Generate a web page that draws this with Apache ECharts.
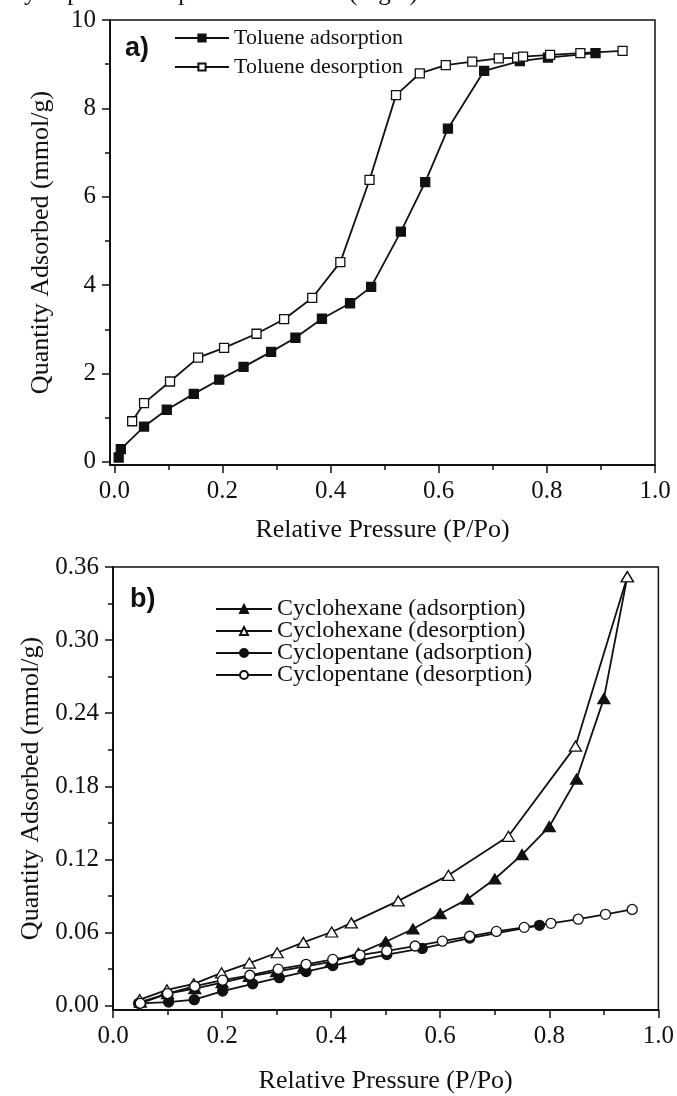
<!DOCTYPE html>
<html>
<head>
<meta charset="utf-8">
<script src="https://cdn.jsdelivr.net/npm/echarts@6/dist/echarts.min.js"></script>
<style>
  html, body { margin: 0; padding: 0; background: #fff; }
  #chart { width: 677px; height: 1096px; }
</style>
</head>
<body>
<div id="chart"></div>
<script>
// panel a) toluene
const tolAdsP = [0.008, 0.012, 0.055, 0.097, 0.147, 0.194, 0.239, 0.290, 0.335, 0.384, 0.436, 0.475, 0.530, 0.575, 0.617, 0.684, 0.750, 0.802, 0.890];
const tolAdsQ = [0.10, 0.29, 0.80, 1.18, 1.54, 1.86, 2.15, 2.49, 2.81, 3.24, 3.59, 3.96, 5.21, 6.33, 7.54, 8.85, 9.07, 9.15, 9.25];
const tolDesP = [0.033, 0.055, 0.103, 0.155, 0.203, 0.263, 0.314, 0.366, 0.418, 0.472, 0.521, 0.565, 0.613, 0.662, 0.711, 0.745, 0.756, 0.806, 0.862, 0.940];
const tolDesQ = [0.92, 1.33, 1.82, 2.36, 2.58, 2.90, 3.23, 3.71, 4.52, 6.38, 8.30, 8.79, 8.98, 9.06, 9.13, 9.15, 9.17, 9.21, 9.25, 9.30];

// panel b) cyclohexane / cyclopentane
const hexAdsP = [0.05, 0.10, 0.15, 0.20, 0.25, 0.30, 0.35, 0.40, 0.45, 0.50, 0.55, 0.60, 0.65, 0.70, 0.75, 0.80, 0.85, 0.90, 0.943];
const hexAdsQ = [0.003, 0.010, 0.014, 0.019, 0.024, 0.028, 0.032, 0.036, 0.043, 0.0525, 0.063, 0.0755, 0.0875, 0.104, 0.124, 0.147, 0.186, 0.252, 0.352];
const hexDesP = [0.049, 0.099, 0.148, 0.199, 0.250, 0.301, 0.349, 0.401, 0.437, 0.523, 0.615, 0.725, 0.848, 0.943];
const hexDesQ = [0.005, 0.013, 0.018, 0.027, 0.035, 0.0435, 0.052, 0.0605, 0.068, 0.086, 0.107, 0.139, 0.213, 0.352];
const penAdsP = [0.047, 0.102, 0.149, 0.201, 0.256, 0.305, 0.354, 0.403, 0.453, 0.502, 0.567, 0.654, 0.782];
const penAdsQ = [0.002, 0.003, 0.005, 0.012, 0.018, 0.023, 0.028, 0.033, 0.0375, 0.042, 0.047, 0.0555, 0.066];
const penDesP = [0.05, 0.10, 0.15, 0.201, 0.251, 0.303, 0.354, 0.403, 0.453, 0.502, 0.554, 0.604, 0.654, 0.703, 0.754, 0.803, 0.853, 0.903, 0.952];
const penDesQ = [0.002, 0.010, 0.016, 0.021, 0.025, 0.030, 0.034, 0.038, 0.0416, 0.045, 0.049, 0.053, 0.057, 0.061, 0.0643, 0.0676, 0.071, 0.075, 0.079];

// ticks
const xMajor = [0, 0.2, 0.4, 0.6, 0.8, 1.0];
const xMinor = [0.1, 0.3, 0.5, 0.7, 0.9];
const yMajorA = [0, 2, 4, 6, 8, 10];
const yMinorA = [1, 3, 5, 7, 9];
const yMajorB = [0, 0.06, 0.12, 0.18, 0.24, 0.30, 0.36];
const yMinorB = [0.03, 0.09, 0.15, 0.21, 0.27, 0.33];

const serif = 'Liberation Serif';
const ink = '#111';

function zip(xs, ys) {
  return xs.map((x, i) => [x, ys[i]]);
}

function majorAxis(grid, pos, min, max, ticks, fmt, extra) {
  return Object.assign({
    type: 'value', gridIndex: grid, position: pos, min: min, max: max,
    axisLine: { show: true, onZero: false, lineStyle: { color: ink, width: 2 } },
    axisTick: { show: true, length: 8, customValues: ticks, lineStyle: { color: ink, width: 1.5 } },
    axisLabel: { customValues: ticks, formatter: fmt, color: ink, fontFamily: serif, fontSize: 25, margin: 14 },
    splitLine: { show: false },
    nameTextStyle: { color: ink, fontFamily: serif, fontSize: 26 }
  }, extra);
}

// second axis on the same side, only for the short minor ticks
function minorAxis(grid, pos, min, max, ticks) {
  return {
    type: 'value', gridIndex: grid, position: pos, offset: 0, min: min, max: max,
    axisLine: { show: false, onZero: false },
    axisTick: { show: true, length: 5, customValues: ticks, lineStyle: { color: ink, width: 1.5 } },
    axisLabel: { show: false },
    splitLine: { show: false }
  };
}

function curve(name, xs, ys, xi, yi, symbol, size, filled) {
  return {
    name: name, type: 'line', xAxisIndex: xi, yAxisIndex: yi,
    data: zip(xs, ys),
    symbol: symbol, symbolSize: size, showAllSymbol: true,
    lineStyle: { color: ink, width: 1.8 },
    itemStyle: { color: filled ? ink : '#fff', borderColor: ink, borderWidth: 1.3 },
    emphasis: { disabled: true }
  };
}

const chart = echarts.init(document.getElementById('chart'));
chart.setOption({
  animation: false,
  backgroundColor: '#fff',
  graphic: [
    { type: 'text', left: 13, top: -19, style: { text: 'cyclopentane as probe molecules (Fig 5).', font: '25px "Liberation Serif"', fill: ink } },
    { type: 'text', left: 125, top: 35, style: { text: 'a)', font: 'bold 27px "Liberation Sans"', fill: ink } },
    { type: 'text', left: 130, top: 586, style: { text: 'b)', font: 'bold 27px "Liberation Sans"', fill: ink } }
  ],
  grid: [
    { left: 110, top: 20, width: 545, height: 445, show: true, borderColor: ink, borderWidth: 1.5 },
    { left: 113, top: 567, width: 546, height: 443, show: true, borderColor: ink, borderWidth: 1.5 }
  ],
  legend: [
    {
      data: ['Toluene adsorption', 'Toluene desorption'],
      orient: 'vertical', left: 174, top: 27, padding: 0, itemWidth: 54, itemHeight: 9, itemGap: 7,
      textStyle: { color: ink, fontFamily: serif, fontSize: 22 }
    },
    {
      data: ['Cyclohexane (adsorption)', 'Cyclohexane (desorption)', 'Cyclopentane (adsorption)', 'Cyclopentane (desorption)'],
      orient: 'vertical', left: 215, top: 597, padding: 0, itemWidth: 56, itemHeight: 10, itemGap: -2,
      textStyle: { color: ink, fontFamily: serif, fontSize: 24 }
    }
  ],
  xAxis: [
    majorAxis(0, 'bottom', -0.008, 1.0, xMajor, v => v.toFixed(1), { name: 'Relative Pressure (P/Po)', nameLocation: 'middle', nameGap: 52 }),
    minorAxis(0, 'bottom', -0.008, 1.0, xMinor),
    majorAxis(1, 'bottom', 0, 1.0, xMajor, v => v.toFixed(1), { name: 'Relative Pressure (P/Po)', nameLocation: 'middle', nameGap: 58 }),
    minorAxis(1, 'bottom', 0, 1.0, xMinor)
  ],
  yAxis: [
    majorAxis(0, 'left', -0.07, 10, yMajorA, v => String(v), { name: 'Quantity Adsorbed (mmol/g)', nameLocation: 'middle', nameGap: 56 }),
    minorAxis(0, 'left', -0.07, 10, yMinorA),
    majorAxis(1, 'left', -0.0035, 0.36, yMajorB, v => v.toFixed(2), { name: 'Quantity Adsorbed (mmol/g)', nameLocation: 'middle', nameGap: 63 }),
    minorAxis(1, 'left', -0.0035, 0.36, yMinorB)
  ],
  series: [
    curve('Toluene adsorption', tolAdsP, tolAdsQ, 0, 0, 'rect', 9, true),
    curve('Toluene desorption', tolDesP, tolDesQ, 0, 0, 'rect', 9, false),
    curve('Cyclohexane (adsorption)', hexAdsP, hexAdsQ, 2, 2, 'triangle', [12, 10], true),
    curve('Cyclohexane (desorption)', hexDesP, hexDesQ, 2, 2, 'triangle', [12, 10], false),
    curve('Cyclopentane (adsorption)', penAdsP, penAdsQ, 2, 2, 'circle', 10, true),
    curve('Cyclopentane (desorption)', penDesP, penDesQ, 2, 2, 'circle', 10, false)
  ]
});
</script>
</body>
</html>
